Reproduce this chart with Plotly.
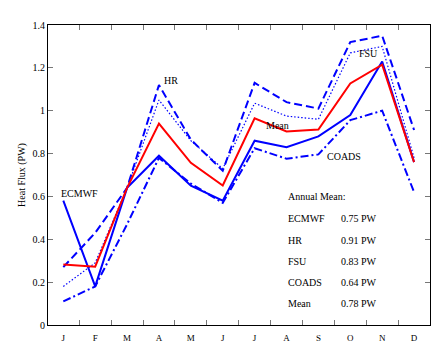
import plotly.graph_objects as go

months = ["J", "F", "M", "A", "M", "J", "J", "A", "S", "O", "N", "D"]
month_idx = list(range(1, 13))

ecmwf = [0.58, 0.18, 0.64, 0.79, 0.65, 0.58, 0.86, 0.83, 0.88, 0.98, 1.23, 0.76]
hr = [0.27, 0.43, 0.64, 1.12, 0.865, 0.72, 1.13, 1.04, 1.01, 1.32, 1.35, 0.91]
fsu = [0.18, 0.29, 0.64, 1.05, 0.86, 0.73, 1.035, 0.975, 0.96, 1.27, 1.30, 0.78]
coads = [0.11, 0.18, 0.47, 0.78, 0.66, 0.57, 0.825, 0.776, 0.796, 0.956, 1.0, 0.62]
mean = [0.282, 0.272, 0.64, 0.94, 0.757, 0.651, 0.965, 0.903, 0.912, 1.127, 1.215, 0.76]

annual_names = ["ECMWF", "HR", "FSU", "COADS", "Mean"]
annual_vals = ["0.75 PW", "0.91 PW", "0.83 PW", "0.64 PW", "0.78 PW"]

FONT = "Liberation Serif"
BLUE = "#0000ff"
RED = "#ff0000"

fig = go.Figure()
fig.add_trace(go.Scatter(x=month_idx, y=hr, mode="lines", name="HR",
                         line=dict(color=BLUE, width=2, dash="8px,4px")))
fig.add_trace(go.Scatter(x=month_idx, y=fsu, mode="lines", name="FSU",
                         line=dict(color=BLUE, width=1.2, dash="1.5px,2px")))
fig.add_trace(go.Scatter(x=month_idx, y=coads, mode="lines", name="COADS",
                         line=dict(color=BLUE, width=2, dash="8px,3px,2px,3px")))
fig.add_trace(go.Scatter(x=month_idx, y=ecmwf, mode="lines", name="ECMWF",
                         line=dict(color=BLUE, width=2)))
fig.add_trace(go.Scatter(x=month_idx, y=mean, mode="lines", name="Mean",
                         line=dict(color=RED, width=2)))
# invisible trace for the boundary tick axis
fig.add_trace(go.Scatter(x=[1], y=[0], xaxis="x2", mode="markers",
                         marker=dict(opacity=0), showlegend=False, hoverinfo="skip"))

xr = [0.52, 12.5]
# page has an 8px body margin, so the figure is shrunk and shifted to compensate
fig.update_layout(
    width=440, height=349,
    margin=dict(l=40, r=18, t=17, b=32, autoexpand=False),
    paper_bgcolor="white", plot_bgcolor="white",
    showlegend=False,
    font=dict(family=FONT, size=10, color="black"),
    xaxis=dict(range=xr, tickmode="array", tickvals=month_idx, ticktext=months,
               ticks="", showgrid=False, zeroline=False, ticklabelstandoff=4,
               showline=True, linecolor="black", linewidth=1.2, mirror=True,
               tickfont=dict(family=FONT, size=9)),
    xaxis2=dict(range=xr, overlaying="x", side="bottom", tickmode="array",
                tickvals=[i + 0.5 for i in month_idx[:-1]], showticklabels=False,
                ticks="inside", ticklen=5, tickcolor="#777777", mirror="ticks",
                showgrid=False, zeroline=False, showline=False),
    yaxis=dict(range=[0, 1.4], tickmode="array",
               tickvals=[0, 0.2, 0.4, 0.6, 0.8, 1.0, 1.2, 1.4],
               ticktext=["0", "0.2", "0.4", "0.6", "0.8", "1", "1.2", "1.4"],
               ticks="inside", ticklen=5, tickcolor="#777777",
               showgrid=False, zeroline=False, automargin=False,
               showline=True, linecolor="black", linewidth=1.2, mirror="ticks",
               title=dict(text="Heat Flux (PW)", font=dict(family=FONT, size=10),
                          standoff=4),
               tickfont=dict(family=FONT, size=10)),
)

series_labels = [
    ("HR", 4.1, 1.14, "left"),
    ("FSU", 10.2, 1.265, "left"),
    ("Mean", 7.3, 0.93, "left"),
    ("COADS", 9.2, 0.785, "left"),
    ("ECMWF", 0.87, 0.615, "left"),
]
for txt, xx, yy, anc in series_labels:
    fig.add_annotation(x=xx, y=yy, xref="x", yref="y", text=txt, showarrow=False,
                       xanchor=anc, yanchor="middle",
                       font=dict(family=FONT, size=10, color="black"))

# Annual mean block (paper coordinates; plot area spans 48..430 x 25..325 on the page)
def px_to_paper_x(px):
    return (px - 48) / (430 - 48)

def px_to_paper_y(py):
    return (325 - py) / (325 - 25)

fig.add_annotation(x=px_to_paper_x(286), y=px_to_paper_y(197), xref="paper", yref="paper",
                   text="Annual Mean:", showarrow=False, xanchor="left", yanchor="middle",
                   font=dict(family=FONT, size=10))
rows_y = [218, 240, 261, 282, 303]
for name, val, ry in zip(annual_names, annual_vals, rows_y):
    fig.add_annotation(x=px_to_paper_x(286), y=px_to_paper_y(ry), xref="paper", yref="paper",
                       text=name, showarrow=False, xanchor="left", yanchor="middle",
                       font=dict(family=FONT, size=10))
    fig.add_annotation(x=px_to_paper_x(339), y=px_to_paper_y(ry), xref="paper", yref="paper",
                       text=val, showarrow=False, xanchor="left", yanchor="middle",
                       font=dict(family=FONT, size=10))

fig.write_html("out.html")
